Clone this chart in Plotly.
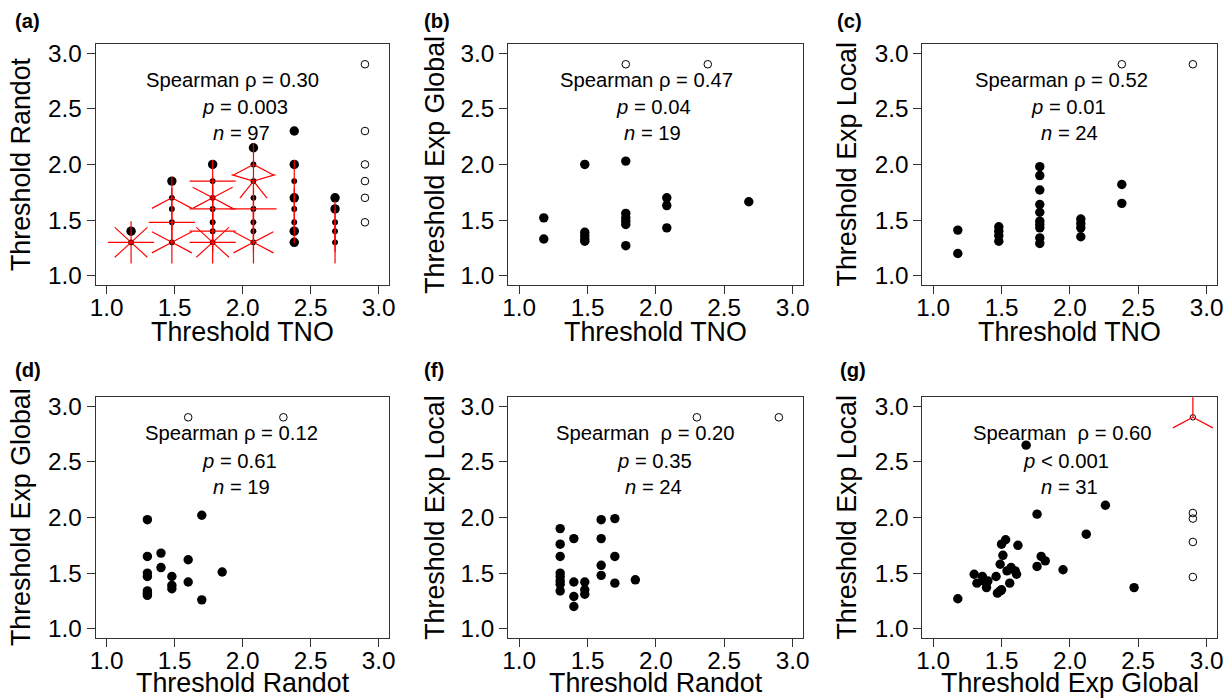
import math
import plotly.graph_objects as go

W, H = 1230, 699
FONT = "Liberation Sans, Arial, Helvetica, sans-serif"

# The photographed page shows the layout slightly inset; positions below are
# measured on the reference and mapped back through this inset.
MX, MY = 7.5, 7.0
KX, KY = 1 - 2 * MX / W, 1 - 2 * MY / H
FS = 1 / KX  # font/marker compensation

AX_RANGE = [0.92, 3.08]
TICKS = [1.0, 1.5, 2.0, 2.5, 3.0]
TICK_TEXT = ["1.0", "1.5", "2.0", "2.5", "3.0"]

# ---------------- data ----------------
# (a) Threshold TNO vs Threshold Randot (sunflower: count per location)
a_x = [1.18, 1.18,
       1.48, 1.48, 1.48, 1.48, 1.48,
       1.78, 1.78, 1.78, 1.78, 1.78, 1.78, 1.78,
       2.08, 2.08, 2.08, 2.08, 2.08, 2.08, 2.08, 2.08,
       2.38, 2.38, 2.38, 2.38, 2.38, 2.38, 2.38, 2.38,
       2.68, 2.68, 2.68, 2.68, 2.68]
a_y = [1.40, 1.30,
       1.85, 1.70, 1.60, 1.48, 1.30,
       2.00, 1.85, 1.70, 1.60, 1.48, 1.40, 1.30,
       2.15, 2.00, 1.85, 1.70, 1.60, 1.48, 1.40, 1.30,
       2.30, 2.00, 1.85, 1.70, 1.60, 1.48, 1.40, 1.30,
       1.70, 1.60, 1.48, 1.40, 1.30]
a_n = [1, 8,
       1, 3, 2, 4, 6,
       1, 4, 6, 4, 2, 4, 8,
       1, 3, 5, 2, 4, 2, 2, 6,
       1, 1, 2, 1, 2, 2, 1, 1,
       1, 1, 2, 2, 2]
a_open_x = [2.9, 2.9, 2.9, 2.9, 2.9, 2.9]
a_open_y = [2.9, 2.30, 2.00, 1.85, 1.70, 1.48]

# (b) Threshold TNO vs Threshold Exp Global
b_x = [1.18, 1.18, 1.48, 1.48, 1.48, 1.48, 1.48, 1.78, 1.78, 1.78, 1.78, 1.78,
       1.78, 2.08, 2.08, 2.08, 2.68]
b_y = [1.52, 1.33, 2.00, 1.39, 1.36, 1.33, 1.31, 2.03, 1.56, 1.52, 1.49, 1.46,
       1.27, 1.70, 1.63, 1.43, 1.665]
b_open_x = [1.78, 2.38]
b_open_y = [2.9, 2.9]

# (c) Threshold TNO vs Threshold Exp Local
c_x = [1.18, 1.18, 1.48, 1.48, 1.48, 1.48,
       1.78, 1.78, 1.78, 1.78, 1.78, 1.78, 1.78, 1.78, 1.78, 1.78,
       2.08, 2.08, 2.08, 2.08, 2.38, 2.38]
c_y = [1.41, 1.20, 1.44, 1.40, 1.36, 1.31,
       1.98, 1.90, 1.77, 1.64, 1.57, 1.49, 1.46, 1.43, 1.34, 1.29,
       1.51, 1.47, 1.43, 1.35, 1.82, 1.65]
c_open_x = [2.38, 2.9]
c_open_y = [2.9, 2.9]

# (d) Threshold Randot vs Threshold Exp Global
d_x = [1.30, 1.30, 1.30, 1.30, 1.30, 1.30, 1.30, 1.40, 1.40, 1.48, 1.48, 1.48,
       1.60, 1.60, 1.70, 1.70, 1.85]
d_y = [1.98, 1.65, 1.50, 1.47, 1.34, 1.32, 1.30, 1.68, 1.55, 1.47, 1.39, 1.36,
       1.62, 1.42, 2.02, 1.26, 1.51]
d_open_x = [1.60, 2.30]
d_open_y = [2.9, 2.9]

# (f) Threshold Randot vs Threshold Exp Local
f_x = [1.30, 1.30, 1.30, 1.30, 1.30, 1.30, 1.30, 1.30,
       1.40, 1.40, 1.40, 1.40, 1.48, 1.48, 1.48,
       1.60, 1.60, 1.60, 1.60, 1.70, 1.70, 1.70, 1.85]
f_y = [1.90, 1.76, 1.65, 1.50, 1.47, 1.43, 1.40, 1.34,
       1.81, 1.42, 1.29, 1.20, 1.42, 1.35, 1.31,
       1.98, 1.81, 1.57, 1.48, 1.99, 1.65, 1.41, 1.44]
f_open_x = [2.30, 2.9]
f_open_y = [2.9, 2.9]

# (g) Threshold Exp Global vs Threshold Exp Local
g_x = [1.18, 1.30, 1.32, 1.36, 1.37, 1.39, 1.40, 1.39, 1.46, 1.47, 1.49, 1.50,
       1.49, 1.50, 1.53, 1.51, 1.54, 1.57, 1.60, 1.61, 1.56, 1.62, 1.76, 1.76,
       1.68, 1.79, 1.82, 1.95, 2.12, 2.26, 2.47]
g_y = [1.27, 1.49, 1.41, 1.47, 1.43, 1.41, 1.43, 1.37, 1.47, 1.32, 1.34, 1.35,
       1.58, 1.76, 1.80, 1.66, 1.52, 1.55, 1.52, 1.49, 1.41, 1.75, 1.56, 2.03,
       2.65, 1.65, 1.61, 1.53, 1.85, 2.11, 1.37]
g_open_x = [2.9, 2.9, 2.9, 2.9, 2.9]
g_open_y = [2.9, 2.04, 1.99, 1.78, 1.465]
g_open_n = [3, 1, 1, 1, 1]

# panel texts
panel_tags = ["(a)", "(b)", "(c)", "(d)", "(f)", "(g)"]
x_titles = ["Threshold TNO", "Threshold TNO", "Threshold TNO",
            "Threshold Randot", "Threshold Randot", "Threshold Exp Global"]
y_titles = ["Threshold Randot", "Threshold Exp Global", "Threshold Exp Local",
            "Threshold Exp Global", "Threshold Exp Local", "Threshold Exp Local"]
rho_text = ["Spearman \u03c1 = 0.30", "Spearman \u03c1 = 0.47", "Spearman \u03c1 = 0.52",
            "Spearman \u03c1 = 0.12", "Spearman \u00a0\u03c1 = 0.20", "Spearman \u00a0\u03c1 = 0.60"]
p_text = ["= 0.003", "= 0.04", "= 0.01", "= 0.61", "= 0.35", "< 0.001"]
n_text = ["97", "19", "24", "19", "24", "31"]

# ---------------- layout geometry (reference pixels) ----------------
cols = [(97, 390), (508.5, 803), (921.5, 1216)]
rows = [(46, 285), (397, 636)]
ytitle_x = [23.1, 435.8, 846.5]
xtitle_y = [332.5, 681.0]
tag_pos = [(14, 23), (422, 23), (834, 23), (14, 370), (422, 370), (837, 370)]
line_pos = [
    [(233.3, 82), (245.5, 108), (242.5, 134)],
    [(646.2, 82), (653.3, 108), (652.5, 134)],
    [(1060.8, 82), (1067.5, 108), (1068.3, 134)],
    [(232.5, 433), (240.8, 460), (242.5, 486)],
    [(645.8, 433), (654.2, 460), (653.3, 486)],
    [(1061.7, 433), (1065, 460), (1068.3, 486)],
]


def fx_(p):
    return ((p - MX) / KX) / W


def fy_(p):
    return 1 - ((p - MY) / KY) / H


PETAL_PX_X = 23.0
PETAL_PX_Y = 21.0


def petals(xs, ys, ns, panel_w, panel_h):
    span = AX_RANGE[1] - AX_RANGE[0]
    xr = PETAL_PX_X * span / panel_w
    yr = PETAL_PX_Y * span / panel_h
    px, py = [], []
    for x, y, n in zip(xs, ys, ns):
        if n > 1:
            for k in range(1, n + 1):
                deg = 2 * math.pi * k / n
                px += [x, x + xr * math.sin(deg), None]
                py += [y, y + yr * math.cos(deg), None]
    return px, py


fig = go.Figure()

panels = [
    (a_x, a_y, a_n, a_open_x, a_open_y, [1] * len(a_open_x)),
    (b_x, b_y, [1] * len(b_x), b_open_x, b_open_y, [1] * len(b_open_x)),
    (c_x, c_y, [1] * len(c_x), c_open_x, c_open_y, [1] * len(c_open_x)),
    (d_x, d_y, [1] * len(d_x), d_open_x, d_open_y, [1] * len(d_open_x)),
    (f_x, f_y, [1] * len(f_x), f_open_x, f_open_y, [1] * len(f_open_x)),
    (g_x, g_y, [1] * len(g_x), g_open_x, g_open_y, g_open_n),
]

BIG = 9.3 * FS
SMALL = 5.8 * FS
OPEN = 7.5 * FS

annotations = []
for i, (px_, py_, pn, ox, oy, on) in enumerate(panels):
    r, c = divmod(i, 3)
    x0, x1 = cols[c]
    y0, y1 = rows[r]
    pw, ph = x1 - x0, y1 - y0
    xa = "x" if i == 0 else f"x{i + 1}"
    ya = "y" if i == 0 else f"y{i + 1}"

    # filled points
    sizes = [BIG if n == 1 else SMALL for n in pn]
    fig.add_trace(go.Scatter(x=px_, y=py_, mode="markers", xaxis=xa, yaxis=ya,
                             marker=dict(symbol="circle", color="#000000", size=sizes,
                                         opacity=1, line=dict(width=0)),
                             showlegend=False, hoverinfo="x+y"))
    # open points
    osizes = [OPEN if n == 1 else OPEN / 1.4 for n in on]
    fig.add_trace(go.Scatter(x=ox, y=oy, mode="markers", xaxis=xa, yaxis=ya,
                             marker=dict(symbol="circle-open", color="#000000", size=osizes,
                                         opacity=1, line=dict(width=1, color="#000000")),
                             showlegend=False, hoverinfo="x+y"))
    # sunflower petals
    allx = list(px_) + list(ox)
    ally = list(py_) + list(oy)
    alln = list(pn) + list(on)
    sx, sy = petals(allx, ally, alln, pw, ph)
    if sx:
        fig.add_trace(go.Scatter(x=sx, y=sy, mode="lines", xaxis=xa, yaxis=ya,
                                 line=dict(color="#ff0000", width=1.2),
                                 showlegend=False, hoverinfo="skip"))

    common = dict(range=AX_RANGE, tickvals=TICKS, ticktext=TICK_TEXT,
                  ticks="outside", ticklen=8, tickwidth=1, tickcolor="#333",
                  showline=True, mirror=True, linecolor="#333", linewidth=1,
                  showgrid=False, zeroline=False,
                  tickfont=dict(family=FONT, size=24 * FS, color="black"))
    xkey = "xaxis" if i == 0 else f"xaxis{i + 1}"
    ykey = "yaxis" if i == 0 else f"yaxis{i + 1}"
    fig.update_layout(**{
        xkey: dict(common, domain=[fx_(x0), fx_(x1)], anchor=ya, ticklabelstandoff=-7),
        ykey: dict(common, domain=[fy_(y1), fy_(y0)], anchor=xa),
    })

    # axis titles
    annotations.append(dict(text=x_titles[i], x=fx_((x0 + x1) / 2), y=fy_(xtitle_y[r]),
                            xref="paper", yref="paper", xanchor="center", yanchor="middle",
                            showarrow=False, font=dict(family=FONT, size=26.5 * FS, color="black")))
    annotations.append(dict(text=y_titles[i], x=fx_(ytitle_x[c]), y=fy_((y0 + y1) / 2),
                            xref="paper", yref="paper", xanchor="center", yanchor="middle",
                            textangle=-90, showarrow=False,
                            font=dict(family=FONT, size=26.5 * FS, color="black")))
    # panel tag
    tx, ty = tag_pos[i]
    annotations.append(dict(text=f"<b>{panel_tags[i]}</b>", x=fx_(tx), y=fy_(ty),
                            xref="paper", yref="paper", xanchor="left", yanchor="middle",
                            showarrow=False, font=dict(family=FONT, size=20 * FS, color="black")))
    # statistics text
    texts = [rho_text[i], f"<i>p</i> {p_text[i]}", f"<i>n</i> = {n_text[i]}"]
    for t, (lx, ly) in zip(texts, line_pos[i]):
        annotations.append(dict(text=t, x=fx_(lx), y=fy_(ly), xref="paper", yref="paper",
                                xanchor="center", yanchor="middle", showarrow=False,
                                font=dict(family=FONT, size=20 * FS, color="black")))

fig.update_layout(width=W, height=H, margin=dict(l=0, r=0, t=0, b=0),
                  paper_bgcolor="white", plot_bgcolor="white",
                  font=dict(family=FONT, color="black"),
                  annotations=annotations, showlegend=False)

fig.write_html("out.html", config={"displayModeBar": False},
               post_script="document.body.style.margin='0px';")
